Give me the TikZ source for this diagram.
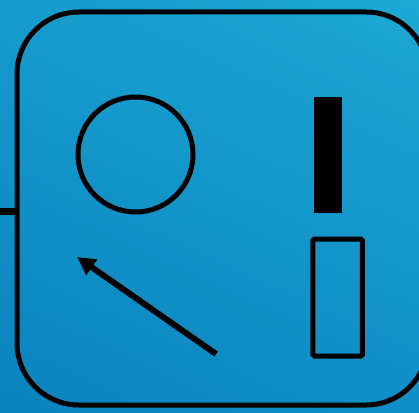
\documentclass[tikz,border=0pt]{standalone}
\usetikzlibrary{arrows.meta,shadings}
\definecolor{bgul}{RGB}{22,156,206}
\definecolor{bgur}{RGB}{28,168,212}
\definecolor{bgll}{RGB}{10,130,190}
\definecolor{bglr}{RGB}{16,142,198}
\begin{document}
\begin{tikzpicture}[x=1pt,y=-1pt]
   \tikzset{outline/.style={draw=black,line width=5pt,inner sep=0pt}}
   \useasboundingbox (0,0) rectangle (419,412);
   \clip (0,0) rectangle (419,412);
   \shade [upper left=bgul,upper right=bgur,lower left=bgll,lower right=bglr] (0,0) rectangle (419,412);

   \node (frame) [outline,rounded corners=62pt,minimum width=411pt,minimum height=393pt] at (222.5,208.5) {};
   \node (ring) [outline,circle,minimum size=115pt] at (135.5,154.5) {};
   \node (bar) [fill=black,inner sep=0pt,minimum width=28pt,minimum height=116pt] at (328,154.7) {};
   \node (box) [outline,rounded corners=1.5pt,minimum width=49.5pt,minimum height=117pt] at (337.7,297.5) {};

   \coordinate (stub) at (0,211) ;
   \coordinate (tail) at (216,354) ;
   \coordinate (tip) at (77,257) ;

   \draw [line width=7pt] (stub) -- (stub -| frame.west) ;
   \draw [line width=6pt,-{Triangle[length=18pt,width=18pt]}] (tail) -- (tip) ;

\end{tikzpicture}
\end{document}
